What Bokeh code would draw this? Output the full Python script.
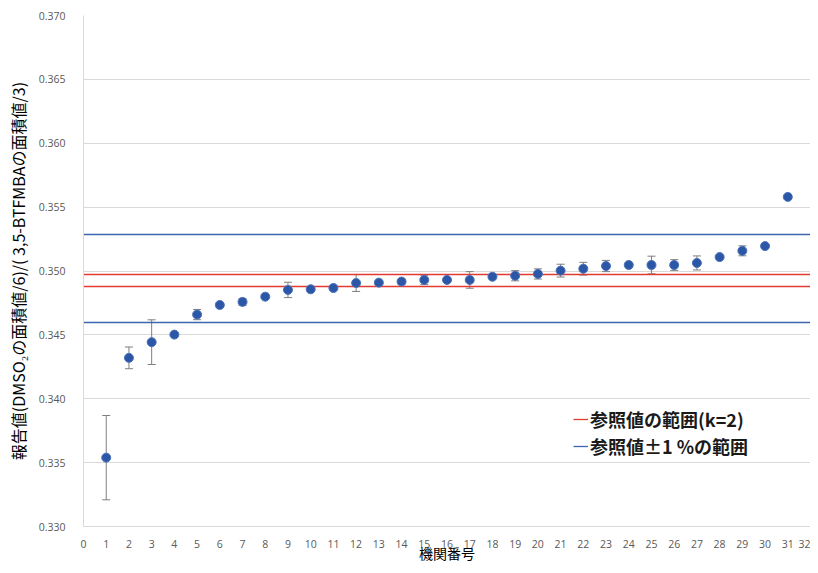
from bokeh.plotting import figure
from bokeh.models import (ColumnDataSource, Whisker, TeeHead, FixedTicker,
                          NumeralTickFormatter, Legend, LegendItem, Range1d)
from bokeh.embed import file_html
from bokeh.resources import INLINE

# ---- data ----
labs = list(range(1, 32))
values = [0.33539, 0.34320, 0.34443, 0.34502, 0.34659, 0.34734, 0.34758, 0.34799,
          0.34852, 0.34857, 0.34867, 0.34906, 0.34909, 0.34917, 0.34930, 0.34930,
          0.34930, 0.34955, 0.34963, 0.34977, 0.35003, 0.35018, 0.35039, 0.35047,
          0.35047, 0.35047, 0.35063, 0.35109, 0.35158, 0.35195, 0.35580]
errors = [0.0033, 0.00085, 0.00175, 0.0001, 0.0004, 0.0001, 0.00027, 0.0001,
          0.0006, 0.0001, 0.0001, 0.00066, 0.0001, 0.0002, 0.00037, 0.0001,
          0.00065, 0.0001, 0.0004, 0.0004, 0.0005, 0.0005, 0.00044, 0.0001,
          0.00069, 0.00042, 0.00055, 0.0001, 0.00039, 0.0001, 0.0001]
ref_k2 = [0.34975, 0.34882]      # 参照値の範囲(k=2)
ref_1pct = [0.35289, 0.34594]    # 参照値±1 %の範囲
x_ticks = list(range(0, 33))
y_ticks = [0.330, 0.335, 0.340, 0.345, 0.350, 0.355, 0.360, 0.365, 0.370]
legend_labels = ["参照値の範囲(k=2)", "参照値±1 %の範囲"]
x_title = "機関番号"
y_title = "報告値(DMSO₂の面積値/6)/( 3,5-BTFMBAの面積値/3)"

RED = "#e23b32"
BLUE = "#3e66b0"

src = ColumnDataSource(dict(
    x=labs, y=values,
    upper=[v + e for v, e in zip(values, errors)],
    lower=[v - e for v, e in zip(values, errors)],
))

p = figure(width=810, height=565, output_backend="svg", toolbar_location=None,
           x_range=Range1d(0, 32), y_range=Range1d(0.330, 0.370),
           min_border_left=83, min_border_right=0, min_border_top=15,
           min_border_bottom=38)
p.outline_line_color = None
p.background_fill_color = "white"

# grid
p.xgrid.visible = False
p.ygrid.grid_line_color = "#d9d9d9"
p.ygrid.grid_line_width = 1

# axes
for ax in (p.xaxis[0], p.yaxis[0]):
    ax.axis_line_color = "#d9d9d9"
    ax.major_tick_line_color = None
    ax.minor_tick_line_color = None
    ax.major_label_text_color = "#595959"
    ax.major_label_text_font = "Open Sans"
    ax.major_label_text_font_size = "10.5px"
    ax.axis_label_text_font = "Noto Sans CJK JP"
    ax.axis_label_text_font_style = "normal"
    ax.axis_label_text_color = "#000000"

p.xaxis.axis_label_text_font_size = "14px"
p.yaxis.axis_label_text_font_size = "16px"
p.xaxis.ticker = FixedTicker(ticks=x_ticks)
p.yaxis.ticker = FixedTicker(ticks=y_ticks)
p.yaxis.formatter = NumeralTickFormatter(format="0.000")
p.xaxis.axis_label = x_title
p.yaxis.axis_label = y_title
p.xaxis.major_label_standoff = 7
p.xaxis.axis_label_standoff = -8
p.yaxis.major_label_standoff = 12
p.yaxis.axis_label_standoff = 6

# reference lines
r_red = p.hspan(y=ref_k2, line_color=RED, line_width=1.3)
r_blue = p.hspan(y=ref_1pct, line_color=BLUE, line_width=1.3)

# error bars
wh = Whisker(source=src, base="x", upper="upper", lower="lower",
             line_color="#7f7f7f", line_width=1,
             upper_head=TeeHead(size=8, line_color="#7f7f7f", line_width=1),
             lower_head=TeeHead(size=8, line_color="#7f7f7f", line_width=1))
p.add_layout(wh)

# points
p.scatter("x", "y", source=src, size=9, marker="circle",
          fill_color="#2c57a7", line_color="#4a72b8", line_width=1)

legend_style = dict(padding=0, margin=0, spacing=0,
                    glyph_width=15, glyph_height=20, label_standoff=2,
                    label_text_font="Noto Sans CJK JP", label_text_font_style="bold",
                    label_text_font_size="18px", label_text_color="#1a1a1a",
                    border_line_color=None, background_fill_alpha=0)
leg_red = Legend(items=[LegendItem(label=legend_labels[0], renderers=[r_red])],
                 location=(490, 94), **legend_style)
leg_blue = Legend(items=[LegendItem(label=legend_labels[1], renderers=[r_blue])],
                  location=(490, 67), **legend_style)
p.add_layout(leg_red)
p.add_layout(leg_blue)

open("out.html", "w").write(file_html(p, INLINE))
